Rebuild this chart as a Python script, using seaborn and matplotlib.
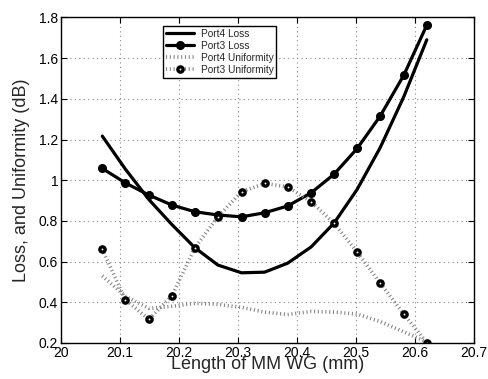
import numpy as np
import pandas as pd
import matplotlib
matplotlib.use("Agg")
import matplotlib.pyplot as plt
import seaborn as sns

# ---- data ----
length_mm = [20.07, 20.109, 20.149, 20.188, 20.227, 20.266, 20.306, 20.345,
             20.384, 20.424, 20.463, 20.502, 20.541, 20.581, 20.62]
port4_loss = [1.217, 1.055, 0.905, 0.782, 0.668, 0.583, 0.545, 0.548,
              0.592, 0.672, 0.79, 0.955, 1.16, 1.41, 1.69]
port3_loss = [1.058, 0.987, 0.927, 0.878, 0.845, 0.829, 0.82, 0.84,
              0.873, 0.938, 1.03, 1.156, 1.315, 1.516, 1.762]
port4_unif = [0.53, 0.43, 0.37, 0.38, 0.395, 0.39, 0.375, 0.352,
              0.34, 0.355, 0.352, 0.342, 0.305, 0.255, 0.205]
port3_unif = [0.66, 0.413, 0.316, 0.432, 0.668, 0.82, 0.943, 0.984,
              0.968, 0.894, 0.788, 0.647, 0.495, 0.342, 0.202]
x_ticks = [20.0, 20.1, 20.2, 20.3, 20.4, 20.5, 20.6, 20.7]
x_tick_labels = ["20", "20.1", "20.2", "20.3", "20.4", "20.5", "20.6", "20.7"]
y_ticks = [0.2, 0.4, 0.6, 0.8, 1.0, 1.2, 1.4, 1.6, 1.8]
y_tick_labels = ["0.2", "0.4", "0.6", "0.8", "1", "1.2", "1.4", "1.6", "1.8"]
series_names = ["Port4 Loss", "Port3 Loss", "Port4 Uniformity", "Port3 Uniformity"]

df = pd.DataFrame({"x": length_mm, "p4l": port4_loss, "p3l": port3_loss,
                   "p4u": port4_unif, "p3u": port3_unif})

sns.set_theme(style="ticks")
plt.rcParams["font.family"] = ["Liberation Sans", "DejaVu Sans"]

fig = plt.figure(figsize=(4.89, 3.79), dpi=100)
ax = fig.add_axes([0.1247, 0.095, 0.8446, 0.859])

grey = "#858585"
dot = (0, (0.3, 0.75))
sns.lineplot(data=df, x="x", y="p4l", ax=ax, sort=False, color="black",
             linewidth=2.3, legend=False, label=series_names[0])
sns.lineplot(data=df, x="x", y="p3l", ax=ax, sort=False, color="black",
             linewidth=2.3, marker="o", markersize=5.5, markerfacecolor="black",
             markeredgecolor="black", markeredgewidth=1, legend=False,
             label=series_names[1])
sns.lineplot(data=df, x="x", y="p4u", ax=ax, sort=False, color=grey,
             linewidth=2.6, linestyle=dot, dash_capstyle="butt",
             legend=False, label=series_names[2])
sns.lineplot(data=df, x="x", y="p3u", ax=ax, sort=False, color=grey,
             linewidth=2.6, linestyle=dot, dash_capstyle="butt",
             marker="o", markersize=3.8, markerfacecolor="white",
             markeredgecolor="black", markeredgewidth=2.4, legend=False,
             label=series_names[3])

ax.set_xlim(20.0, 20.7)
ax.set_ylim(0.2, 1.8)
ax.set_xticks(x_ticks)
ax.set_xticklabels(x_tick_labels)
ax.set_yticks(y_ticks)
ax.set_yticklabels(y_tick_labels)
ax.grid(True, color="#888888", linestyle=(0, (1, 3)), linewidth=0.8)
ax.tick_params(direction="in", top=True, right=True, length=4, width=0.8,
               labelsize=10, colors="black", pad=2)
for s in ax.spines.values():
    s.set_linewidth(1.0)
    s.set_color("black")
    s.set_visible(True)

ax.set_xlabel("Length of MM WG (mm)", fontsize=13, labelpad=-3)
ax.set_ylabel("Loss, and Uniformity (dB)", fontsize=13, labelpad=6)

handles = ax.get_lines()[:4]
leg = ax.legend(handles, series_names, loc="upper left",
                bbox_to_anchor=(0.247, 0.975), fontsize=7.3, frameon=True,
                fancybox=False, framealpha=1, edgecolor="black",
                handlelength=2.8, handletextpad=0.6, borderpad=0.3,
                labelspacing=0.2, borderaxespad=0)
leg.get_frame().set_linewidth(1.0)

fig.savefig("out.png", dpi=100)
